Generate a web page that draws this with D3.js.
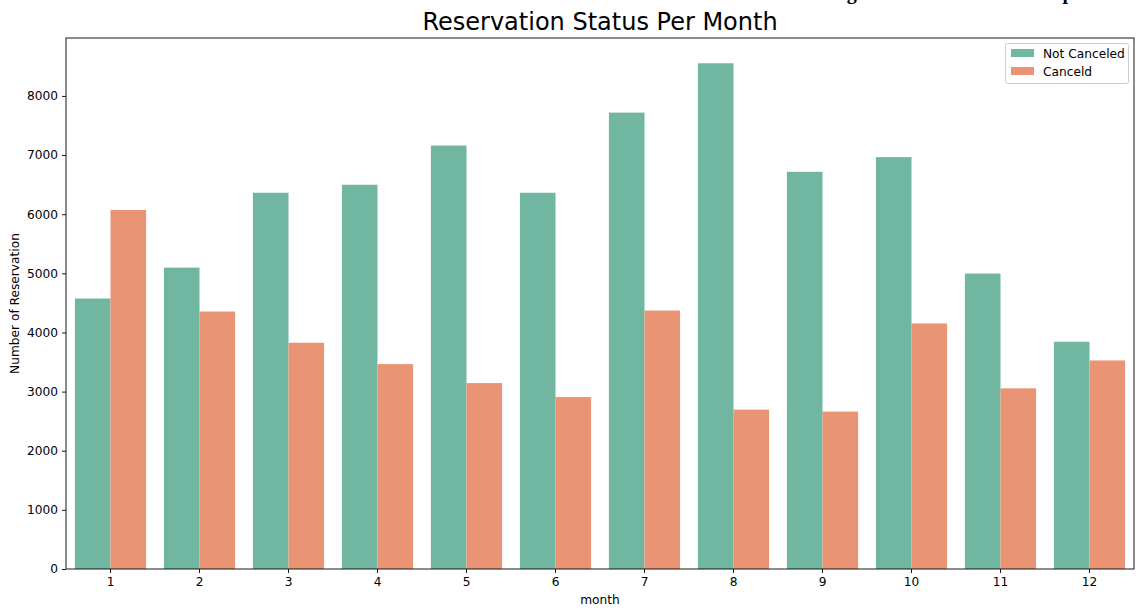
<!DOCTYPE html>
<html><head><meta charset="utf-8">
<script src="https://cdn.jsdelivr.net/npm/d3@7"></script>
<style>body{margin:0;background:#fff;} svg{display:block;}</style>
</head><body>
<svg id="chart" width="1140" height="610"></svg>
<script>
const months = ["1","2","3","4","5","6","7","8","9","10","11","12"];
const seriesNames = ["Not Canceled", "Canceld"];
const notCanceled = [4574, 5097, 6363, 6498, 7161, 6363, 7718, 8552, 6717, 6965, 4996, 3843];
const canceled = [6071, 4354, 3826, 3465, 3144, 2908, 4371, 2695, 2662, 4152, 3055, 3527];
const yTicks = [0, 1000, 2000, 3000, 4000, 5000, 6000, 7000, 8000];
const colors = ["#71b6a1", "#e99575"];

(function () {
const svg = d3.select("#chart");
const pL = 66, pR = 1134, pT = 38, pB = 569;
const font = "DejaVu Sans, sans-serif";
const fs = 12.2;

const ymax = d3.max(notCanceled.concat(canceled)) * 1.05;
const x = d3.scaleBand().domain(months).range([pL, pR]).paddingInner(0.2).paddingOuter(0.1);
const y = d3.scaleLinear().domain([0, ymax]).range([pB, pT]);
const xs = d3.scaleBand().domain(seriesNames).range([0, x.bandwidth()]);

const series = [notCanceled, canceled];
series.forEach((vals, si) => {
  svg.append("g").selectAll("rect").data(vals).join("rect")
    .attr("x", (d, i) => x(months[i]) + xs(seriesNames[si]))
    .attr("width", xs.bandwidth())
    .attr("y", d => y(d))
    .attr("height", d => y(0) - y(d))
    .attr("fill", colors[si]);
});

const xAxis = svg.append("g").attr("transform", `translate(0,${pB})`)
  .call(d3.axisBottom(x).tickSize(4).tickPadding(4).tickSizeOuter(0));
const yAxis = svg.append("g").attr("transform", `translate(${pL},0)`)
  .call(d3.axisLeft(y).tickValues(yTicks).tickFormat(d3.format("d")).tickSize(4).tickPadding(4).tickSizeOuter(0));
[xAxis, yAxis].forEach(a => {
  a.select(".domain").remove();
  a.selectAll("text").attr("font-family", font).attr("font-size", fs).attr("fill", "#000");
  a.selectAll("line").attr("stroke", "#000").attr("stroke-width", 0.9);
});

svg.append("rect").attr("x", pL).attr("y", pT).attr("width", pR - pL).attr("height", pB - pT)
  .attr("fill", "none").attr("stroke", "#000").attr("stroke-width", 0.9);

svg.append("text").attr("x", (pL + pR) / 2).attr("y", 604).attr("text-anchor", "middle")
  .attr("font-family", font).attr("font-size", fs).text("month");
svg.append("text").attr("transform", `translate(19,${(pT + pB) / 2}) rotate(-90)`).attr("text-anchor", "middle")
  .attr("font-family", font).attr("font-size", fs).text("Number of Reservation");
svg.append("text").attr("x", 600).attr("y", 30).attr("text-anchor", "middle")
  .attr("font-family", font).attr("font-size", 24).text("Reservation Status Per Month");

// caption that is clipped by the top edge in the reference
svg.append("text").attr("x", 829).attr("y", -1).attr("font-family", "Liberation Serif, serif")
  .attr("font-weight", "bold").attr("font-size", 20).text("Figure: Reservation Status per Month");

const lg = svg.append("g");
lg.append("rect").attr("x", 1005.5).attr("y", 43.5).attr("width", 123).attr("height", 40).attr("rx", 2)
  .attr("fill", "#fff").attr("fill-opacity", 0.8).attr("stroke", "#ccc").attr("stroke-width", 1);
seriesNames.forEach((n, i) => {
  lg.append("rect").attr("x", 1011).attr("y", 49 + i * 18).attr("width", 23).attr("height", 8).attr("fill", colors[i]);
  lg.append("text").attr("x", 1043).attr("y", 58 + i * 18).attr("font-family", font).attr("font-size", fs).text(n);
});
})();
</script>
</body></html>
